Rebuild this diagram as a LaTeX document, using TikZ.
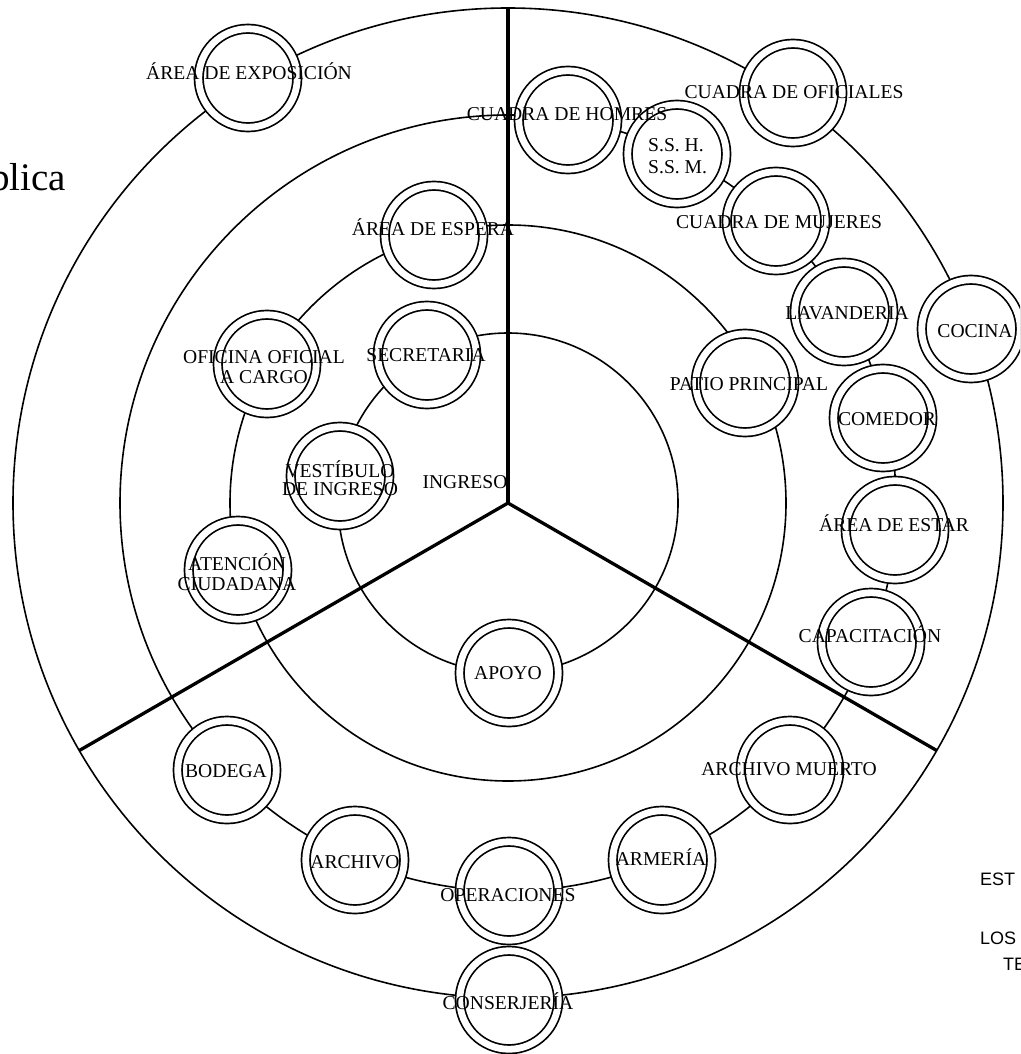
\documentclass[tikz,border=0pt]{standalone}
\usepackage{fontspec}
\usetikzlibrary{calc}
\setmainfont{Liberation Serif}
\newfontfamily\sansf{Liberation Sans}
\begin{document}
\begin{tikzpicture}[x=1pt,y=-1pt,
  ring/.style={line width=1.6pt},
  divider/.style={line width=3.3pt},
  room/.style={circle, draw, line width=1.7pt, double=white, double distance=6.8pt,
    fill=white, minimum size=98.5pt, inner sep=0pt, outer sep=0pt},
  lbl/.style={font=\fontsize{19.6}{20}\selectfont, anchor=base, inner sep=0pt, align=center},
  lbll/.style={font=\fontsize{19.6}{22}\selectfont, anchor=base west, inner sep=0pt, align=left},
  side/.style={font=\sansf\fontsize{18}{20}\selectfont, anchor=base west, inner sep=0pt}]
\useasboundingbox (0,0) rectangle (1020,1054);
\clip (0,0) rectangle (1020,1054);
\coordinate (C) at (508,503);
% rings
\draw[ring] (C) circle[radius=170];
\draw[ring] (C) circle[radius=278];
\draw[ring] (C) circle[radius=388];
\draw[ring] (C) circle[radius=495];
% dividers
\coordinate (dN) at ($(C)+(270:495)$);
\coordinate (dL) at ($(C)+(150:495)$);
\coordinate (dR) at ($(C)+(30:495)$);
\draw[divider] (C) -- (dN);
\draw[divider] (C) -- (dL);
\draw[divider] (C) -- (dR);
% rooms
\node[room] (exp) at (248,78) {};
\node[room] (hom) at (568,120) {};
\node[room] (ssh) at (677,154) {};
\node[room] (ofi) at (793,93) {};
\node[room] (muj) at (776,221) {};
\node[room] (lav) at (844,312) {};
\node[room] (coc) at (971,329) {};
\node[room] (pat) at (745,383) {};
\node[room] (com) at (883,418) {};
\node[room] (est) at (895,530) {};
\node[room] (cap) at (871,642) {};
\node[room] (amu) at (790,770) {};
\node[room] (arm) at (662,860) {};
\node[room] (ope) at (509,891) {};
\node[room] (con) at (509,1000) {};
\node[room] (arc) at (355,860) {};
\node[room] (bod) at (227,770) {};
\node[room] (apo) at (509,673) {};
\node[room] (ate) at (238,570) {};
\node[room] (ves) at (340,476) {};
\node[room] (ofc) at (267,364) {};
\node[room] (sec) at (427,355) {};
\node[room] (esp) at (434,235) {};
% labels
\node[lbl] (texp) at (249,80) {ÁREA DE EXPOSICIÓN};
\node[lbl] (thom) at (567,121) {CUADRA DE HOMRES};
\node[lbll] (tssh) at (648,173) {S.S. H.\\S.S. M.};
\node[lbl] (tofi) at (794,99) {CUADRA DE OFICIALES};
\node[lbl] (tmuj) at (779,228) {CUADRA DE MUJERES};
\node[lbl] (tlav) at (847,319) {LAVANDERIA};
\node[lbl] (tcoc) at (975,337) {COCINA};
\node[lbl] (tpat) at (749,390) {PATIO PRINCIPAL};
\node[lbl] (tcom) at (887,425) {COMEDOR};
\node[lbl] (test) at (894,531) {ÁREA DE ESTAR};
\node[lbl] (tcap) at (870,642) {CAPACITACIÓN};
\node[lbl] (tamu) at (789,775) {ARCHIVO MUERTO};
\node[lbl] (tarm) at (661,865) {ARMERÍA};
\node[lbl] (tope) at (508,901) {OPERACIONES};
\node[lbl] (tcon) at (508,1009) {CONSERJERÍA};
\node[lbl] (tarc) at (355,868) {ARCHIVO};
\node[lbl] (tbod) at (226,777) {BODEGA};
\node[lbl] (tapo) at (508,679) {APOYO};
\node[lbl] (tate) at (237,590) {ATENCIÓN\\CIUDADANA};
\node[lbl, font=\fontsize{19.6}{18}\selectfont] (tves) at (340,495) {VESTÍBULO\\DE INGRESO};
\node[lbl] (tofc) at (264,383) {OFICINA OFICIAL\\A CARGO};
\node[lbl] (tsec) at (426,361) {SECRETARIA};
\node[lbl] (ting) at (465,488) {INGRESO};
\node[lbl] (tesp) at (433,235) {ÁREA DE ESPERA};
% clipped side texts
\node[font=\fontsize{39}{40}\selectfont, anchor=base east, inner sep=0pt] (tpub) at (66,190) {blica};
\node[side] (ts1) at (980,885) {EST};
\node[side] (ts2) at (980,944) {LOS};
\node[side] (ts3) at (1003,970) {TE};
\end{tikzpicture}
\end{document}
